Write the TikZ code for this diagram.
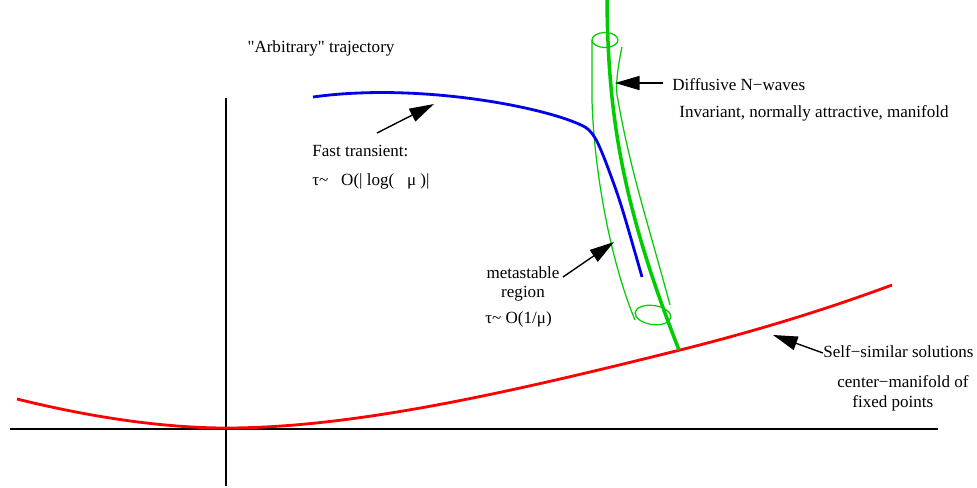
\documentclass[tikz,border=0pt]{standalone}
\usepackage{fontspec}
\setmainfont{Liberation Serif}
\usepackage{tikz}
\usetikzlibrary{arrows.meta,positioning,calc}

\definecolor{manigreen}{RGB}{0,204,0}
\definecolor{trajblue}{RGB}{0,0,235}
\definecolor{selfred}{RGB}{255,0,0}

\tikzset{
  lbl/.style={inner sep=0pt, font=\fontsize{9.7}{11.6}\selectfont},
  pointer/.style={black, line width=0.8pt, -{Triangle[length=14pt,width=8pt]}},
  tube/.style={manigreen, line width=0.7pt}
}

\begin{document}
\begin{tikzpicture}[x=0.02cm, y=-0.02cm]
    \useasboundingbox (0,0) rectangle (977,487);

    % axes
    \draw[line width=1.4pt] (10,429) -- (938,429);
    \draw[line width=1.4pt] (226,98) -- (226,486);

    % self-similar solutions
    \draw[selfred, line width=1.6pt] (17,399) .. controls (110,422) and (180,428) .. (226,428)
        .. controls (350,428) and (500,395) .. (680,350)
        .. controls (760,330) and (830,308) .. (892,285);

    % invariant manifold and its tube
    \draw[manigreen, line width=2pt] (607,0) .. controls (608,110) and (620,200) .. (679,350);
    \draw[tube] (605,40) ellipse [x radius=13, y radius=7.5];
    \draw[tube] (592,40) -- (592,100) .. controls (594,170) and (610,260) .. (635,320);
    \draw[tube] (622,47) .. controls (617,70) and (615,90) .. (618,100)
        .. controls (630,170) and (650,230) .. (670,305);
    \draw[tube, rotate around={-8:(653,315)}] (653,315) ellipse [x radius=18, y radius=9.5];

    % trajectory
    \draw[trajblue, line width=1.6pt] (313,97) .. controls (420,82) and (550,108) .. (585,127)
        .. controls (595,133) and (600,148) .. (605,160)
        .. controls (620,200) .. (642,277);

    % labels
    \node[lbl] (arb) at (321,48) {\textquotedbl Arbitrary\textquotedbl\ trajectory};
    \node[lbl, anchor=west] (fast) at (312,151) {Fast transient:};
    \node[lbl, anchor=west] (fasttau) at (312,181) {τ\textasciitilde\ \ \ O(| log(\ \ \ μ )|};
    \node[lbl, anchor=west] (nwave) at (672,85) {Diffusive N−waves};
    \node[lbl, anchor=west] (inv) at (679,113) {Invariant, normally attractive, manifold};
    \node[lbl] (meta) at (523,273) {metastable};
    \node[lbl] (region) at (523,294) {region};
    \node[lbl, anchor=west] (metatau) at (485,319) {τ\textasciitilde\ O(1/μ)};
    \node[lbl, anchor=west] (self) at (823,352) {Self−similar solutions};
    \node[lbl, anchor=west] (cman) at (837,382) {center−manifold of};
    \node[lbl, anchor=west] (fixed) at (852,403) {fixed points};

    % pointers
    \coordinate (fastT) at (377,133);
    \coordinate (fastH) at (434,104);
    \coordinate (nwaveT) at (663,83);
    \coordinate (nwaveH) at (615,83);
    \coordinate (metaT) at (563,277);
    \coordinate (metaH) at (614,242);
    \coordinate (selfT) at (823,353);
    \coordinate (selfH) at (773,335);
    \draw[pointer] (fastT) -- (fastH);
    \draw[pointer] (nwaveT) -- (nwaveH);
    \draw[pointer] (metaT) -- (metaH);
    \draw[pointer] (selfT) -- (selfH);
\end{tikzpicture}
\end{document}
